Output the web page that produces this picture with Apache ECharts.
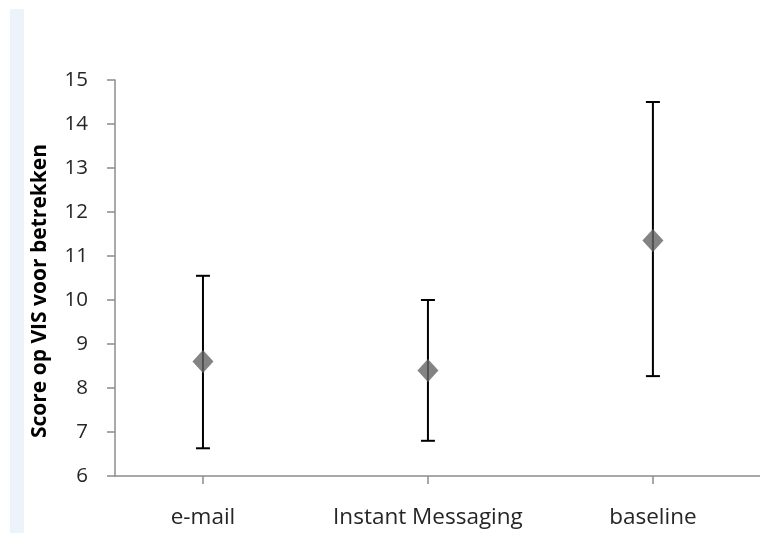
<!DOCTYPE html>
<html>
<head>
<meta charset="utf-8">
<script src="https://cdn.jsdelivr.net/npm/echarts@6/dist/echarts.min.js"></script>
<style>html,body{margin:0;padding:0;background:#fff}#c{width:760px;height:533px}</style>
</head>
<body>
<div id="c"></div>
<script>
var categories = ['e-mail', 'Instant Messaging', 'baseline'];
var means = [8.6, 8.4, 11.35];
var upper = [10.55, 10.0, 14.5];
var lower = [6.63, 6.8, 8.27];
var yTicks = [6, 7, 8, 9, 10, 11, 12, 13, 14, 15];
var yTitle = 'Score op VIS voor betrekken';

var chart = echarts.init(document.getElementById('c'));
var idx = categories.map(function (c, i) { return i; });
var font = '"Open Sans", "Noto Sans", sans-serif';
chart.setOption({
  animation: false,
  graphic: [{ type: 'rect', shape: { x: 10, y: 9, width: 14, height: 524 }, style: { fill: '#EEF2FA' }, z: -10 }],
  grid: { left: 115, right: 0, top: 80, bottom: 57, containLabel: false },
  xAxis: {
    type: 'value', min: -0.391, max: 2.476,
    splitLine: { show: false },
    axisLine: { show: true, onZero: false, lineStyle: { color: '#8C8C8C', width: 1.5 } },
    axisTick: { show: true, length: 8, customValues: idx, lineStyle: { color: '#8C8C8C', width: 1.5 } },
    axisLabel: { customValues: idx, margin: 30, color: '#262626', fontSize: 22.5, fontFamily: font,
      formatter: function (v) { return categories[Math.round(v)]; } }
  },
  yAxis: {
    type: 'value', min: yTicks[0], max: yTicks[yTicks.length - 1], interval: 1,
    splitLine: { show: false },
    axisLine: { show: true, onZero: false, lineStyle: { color: '#8C8C8C', width: 1.5 } },
    axisTick: { show: true, length: 8, lineStyle: { color: '#8C8C8C', width: 1.5 } },
    axisLabel: { margin: 27, color: '#262626', fontSize: 20.5, fontFamily: font },
    name: yTitle, nameLocation: 'middle', nameGap: 64, nameRotate: 90,
    nameTextStyle: { fontSize: 21, fontWeight: 'bold', color: '#000', fontFamily: font, padding: [0, 26, 0, 0] }
  },
  series: [
    {
      type: 'custom',
      data: idx.map(function (i) { return [i, lower[i], upper[i]]; }),
      renderItem: function (params, api) {
        var x = api.value(0);
        var lo = api.coord([x, api.value(1)]);
        var hi = api.coord([x, api.value(2)]);
        var hw = 7;
        var st = { stroke: '#000', lineWidth: 2 };
        return { type: 'group', children: [
          { type: 'line', shape: { x1: lo[0], y1: lo[1], x2: hi[0], y2: hi[1] }, style: st },
          { type: 'line', shape: { x1: lo[0] - hw, y1: lo[1], x2: lo[0] + hw, y2: lo[1] }, style: st },
          { type: 'line', shape: { x1: hi[0] - hw, y1: hi[1], x2: hi[0] + hw, y2: hi[1] }, style: st }
        ] };
      },
      z: 1
    },
    {
      type: 'scatter',
      symbol: 'diamond', symbolSize: [21, 23],
      itemStyle: { color: '#646464' },
      data: idx.map(function (i) { return [i, means[i]]; }),
      z: 5
    }
  ]
});
</script>
</body>
</html>
